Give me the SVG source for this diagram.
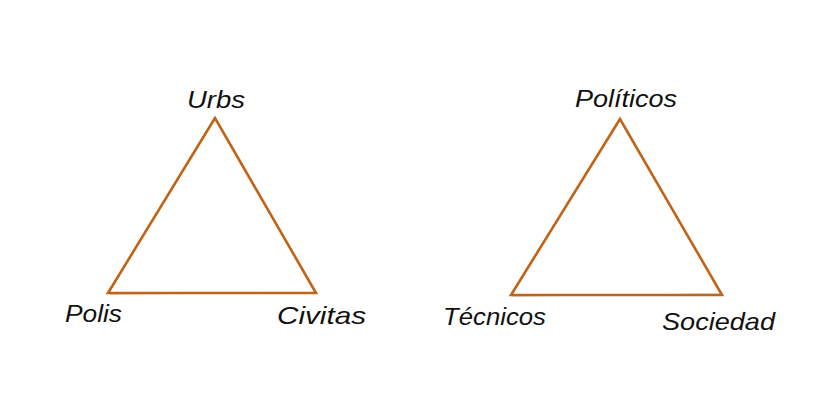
<svg xmlns="http://www.w3.org/2000/svg" width="840" height="420" viewBox="0 0 840 420">
<style>
.edge{fill:none;stroke:#c0651a;stroke-width:2.6;stroke-linecap:round;stroke-linejoin:miter}
.edge2{fill:none;stroke:#c0651a;stroke-width:1.2;stroke-opacity:0.55;stroke-linecap:round}
.lbl{font-family:"Liberation Sans","DejaVu Sans",sans-serif;font-style:italic;font-size:24px;fill:#111}
</style>
<rect width="840" height="420" fill="#fff"/>
<g id="connectors">
<path class="edge" d="M215,118 L108,293 L316,293 Z"/>
<path class="edge2" d="M214,120 L109,292 M110,294 L315,292.5 M216,119 L315,291"/>
<path class="edge" d="M620,119 L511,295 L722,295 Z"/>
<path class="edge2" d="M619,121 L512,293 M513,296 L721,294 M621,121 L721,293"/>
</g>
<g id="urbs"><text class="lbl" x="216" y="108" text-anchor="middle" textLength="58" lengthAdjust="spacingAndGlyphs">Urbs</text></g>
<g id="polis"><text class="lbl" x="65" y="322" textLength="57" lengthAdjust="spacingAndGlyphs">Polis</text></g>
<g id="civitas"><text class="lbl" x="277" y="324" textLength="89" lengthAdjust="spacingAndGlyphs">Civitas</text></g>
<g id="politicos"><text class="lbl" x="575" y="107" textLength="102" lengthAdjust="spacingAndGlyphs">Políticos</text></g>
<g id="tecnicos"><text class="lbl" x="443" y="325" textLength="103" lengthAdjust="spacingAndGlyphs">Técnicos</text></g>
<g id="sociedad"><text class="lbl" x="662" y="330" textLength="113" lengthAdjust="spacingAndGlyphs">Sociedad</text></g>
</svg>
